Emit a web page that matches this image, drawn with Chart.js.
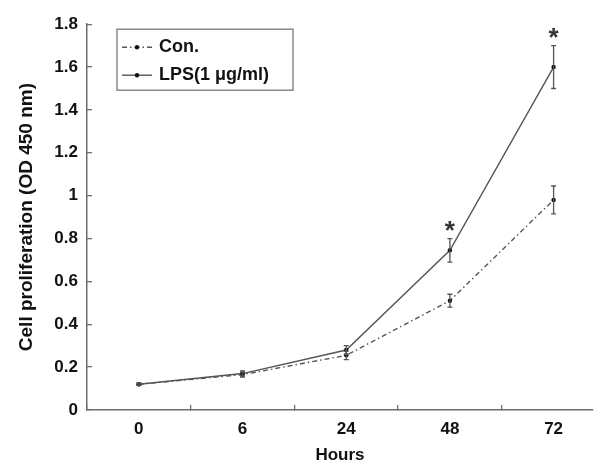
<!DOCTYPE html>
<html>
<head>
<meta charset="utf-8">
<script src="https://cdn.jsdelivr.net/npm/chart.js@4"></script>
<style>
  html, body { margin: 0; padding: 0; background: #fff; }
  #wrap { width: 597px; height: 466px; }
</style>
</head>
<body>
<div id="wrap"><canvas id="chart"></canvas></div>
<script>
// Dados
const hours = ["0", "6", "24", "48", "72"];
const conMean = [0.12, 0.165, 0.255, 0.51, 0.98];
const conErr = [0.005, 0.012, 0.02, 0.03, 0.065];
const lpsMean = [0.12, 0.17, 0.28, 0.745, 1.6];
const lpsErr = [0.005, 0.012, 0.02, 0.055, 0.1];
const lpsStar = [false, false, false, true, true];

const FONT = "'Liberation Sans', Arial, sans-serif";
const AXIS = "#6e6e6e";

const toPoints = (arr) => arr.map((v, i) => ({ x: i, y: v }));

// Barras de erro + asteriscos
const errorBars = {
  id: "errorBars",
  afterDatasetsDraw(chart) {
    const ctx = chart.ctx;
    const yScale = chart.scales.y;
    chart.data.datasets.forEach((ds, di) => {
      const meta = chart.getDatasetMeta(di);
      meta.data.forEach((pt, j) => {
        const top = yScale.getPixelForValue(ds.mean[j] + ds.err[j]);
        const bot = yScale.getPixelForValue(ds.mean[j] - ds.err[j]);
        ctx.save();
        ctx.strokeStyle = "#555";
        ctx.lineWidth = 1.3;
        ctx.beginPath();
        ctx.moveTo(pt.x, top);
        ctx.lineTo(pt.x, bot);
        ctx.moveTo(pt.x - 2.5, top);
        ctx.lineTo(pt.x + 2.5, top);
        ctx.moveTo(pt.x - 2.5, bot);
        ctx.lineTo(pt.x + 2.5, bot);
        ctx.stroke();
        if (ds.star && ds.star[j]) {
          ctx.fillStyle = "#333";
          ctx.font = "bold 26px " + FONT;
          ctx.textAlign = "center";
          ctx.textBaseline = "middle";
          ctx.fillText("*", pt.x, top - 7);
        }
        ctx.restore();
      });
    });
  },
};

// Legenda com moldura
const boxLegend = {
  id: "boxLegend",
  afterDraw(chart) {
    const ctx = chart.ctx;
    const a = chart.chartArea;
    const x0 = a.left + 30, y0 = a.top + 5, w = 176, h = 61;
    ctx.save();
    ctx.strokeStyle = "#777";
    ctx.lineWidth = 1.3;
    ctx.strokeRect(x0, y0, w, h);
    chart.data.datasets.forEach((ds, i) => {
      const cy = y0 + 18 + i * 28;
      ctx.strokeStyle = ds.borderColor;
      ctx.lineWidth = ds.borderWidth;
      ctx.setLineDash(ds.borderDash || []);
      ctx.beginPath();
      ctx.moveTo(x0 + 5, cy);
      ctx.lineTo(x0 + 35, cy);
      ctx.stroke();
      ctx.setLineDash([]);
      ctx.fillStyle = "#111";
      ctx.beginPath();
      ctx.arc(x0 + 20, cy, 2.2, 0, Math.PI * 2);
      ctx.fill();
      ctx.font = "bold 18px " + FONT;
      ctx.textAlign = "left";
      ctx.textBaseline = "middle";
      ctx.fillText(ds.label, x0 + 42, cy);
    });
    ctx.restore();
  },
};

const ctx = document.querySelector("#chart").getContext("2d");
const chart = new Chart(ctx, {
  type: "line",
  data: {
    datasets: [
      {
        label: "Con.",
        data: toPoints(conMean),
        mean: conMean,
        err: conErr,
        borderColor: "#555",
        borderWidth: 1.4,
        borderDash: [5, 3, 1.5, 3],
        pointRadius: 2.2,
        pointBackgroundColor: "#111",
        pointBorderWidth: 0,
        tension: 0,
      },
      {
        label: "LPS(1 μg/ml)",
        data: toPoints(lpsMean),
        mean: lpsMean,
        err: lpsErr,
        star: lpsStar,
        borderColor: "#555",
        borderWidth: 1.4,
        pointRadius: 2.2,
        pointBackgroundColor: "#111",
        pointBorderWidth: 0,
        tension: 0,
      },
    ],
  },
  options: {
    responsive: true,
    maintainAspectRatio: false,
    animation: false,
    layout: { padding: { top: 21, right: 0, left: 0, bottom: 0 } },
    plugins: { legend: { display: false }, tooltip: { enabled: false } },
    scales: {
      x: {
        type: "linear",
        min: -0.5,
        max: 4.38,
        afterBuildTicks: (s) => {
          s.ticks = hours.map((h, i) => ({ value: i }));
        },
        afterFit: (s) => {
          s.height = 56;
        },
        ticks: {
          autoSkip: false,
          maxRotation: 0,
          padding: 14,
          color: "#111",
          font: { family: FONT, size: 17, weight: "bold" },
          callback: (v) => hours[v],
        },
        grid: {
          offset: true,
          drawOnChartArea: false,
          tickLength: -5,
          color: AXIS,
          lineWidth: 1.3,
        },
        border: { color: AXIS, width: 1.5 },
        title: {
          display: true,
          text: "Hours",
          color: "#111",
          font: { family: FONT, size: 17, weight: "bold" },
          padding: { top: 0, bottom: 0 },
        },
      },
      y: {
        min: 0,
        max: 1.8,
        afterFit: (s) => {
          s.width = 87;
        },
        ticks: {
          stepSize: 0.2,
          padding: 14,
          color: "#111",
          font: { family: FONT, size: 17, weight: "bold" },
          callback: (v) => String(Number(v.toFixed(1))),
        },
        grid: {
          drawOnChartArea: false,
          tickLength: -5,
          color: AXIS,
          lineWidth: 1.3,
        },
        border: { color: AXIS, width: 1.5 },
        title: {
          display: true,
          text: "Cell proliferation (OD 450 nm)",
          color: "#111",
          font: { family: FONT, size: 19, weight: "bold" },
          padding: { top: 15, bottom: 0 },
        },
      },
    },
  },
  plugins: [errorBars, boxLegend],
});
</script>
</body>
</html>
